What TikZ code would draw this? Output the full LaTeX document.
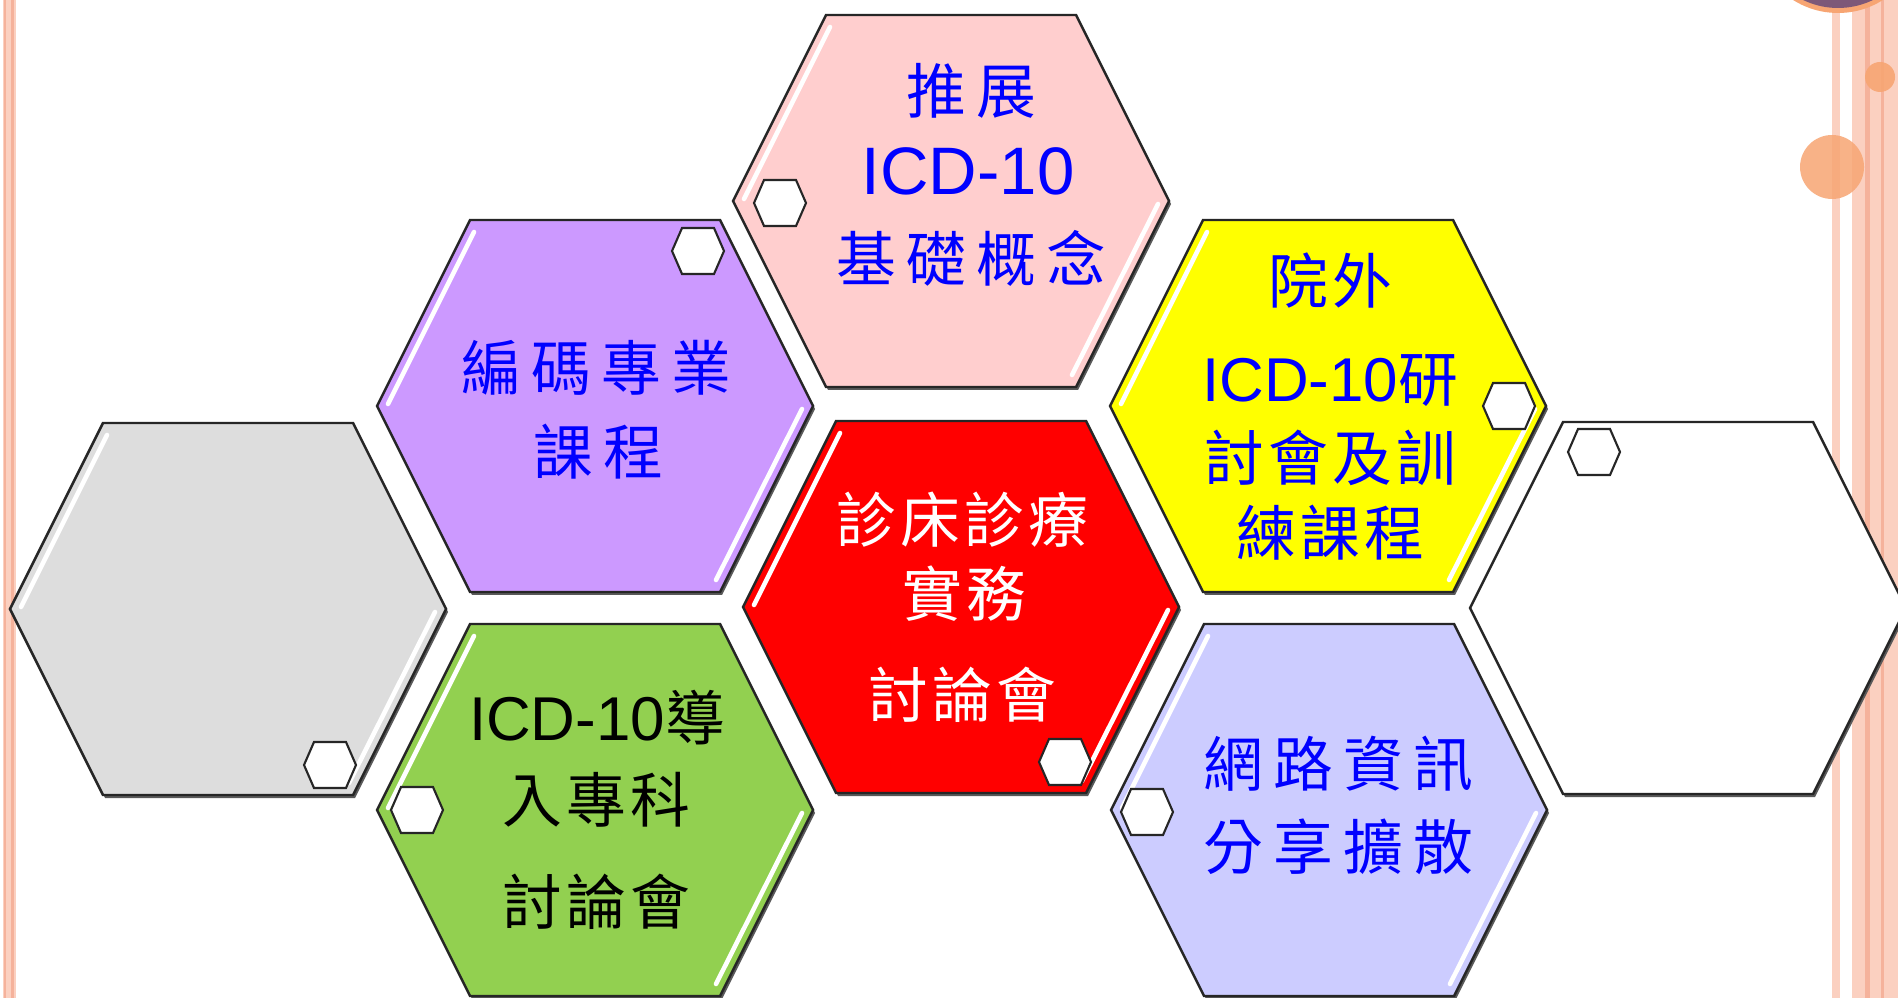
\documentclass[tikz,border=0pt]{standalone}
\usepackage{fontspec}
\newfontfamily\cjkfont[LetterSpace=7]{Noto Sans CJK TC}
\newfontfamily\cjkwidefont[LetterSpace=17]{Noto Sans CJK TC}
\newfontfamily\icdfont{Liberation Sans}
\definecolor{pinkfill}{RGB}{255,206,206}
\definecolor{purplefill}{RGB}{204,153,255}
\definecolor{yellowfill}{RGB}{255,255,0}
\definecolor{redfill}{RGB}{255,0,0}
\definecolor{greenfill}{RGB}{146,208,80}
\definecolor{lavenderfill}{RGB}{204,204,255}
\definecolor{grayfill}{RGB}{221,221,221}
\definecolor{textblue}{RGB}{0,0,255}
\definecolor{stripelight}{RGB}{251,208,192}
\definecolor{stripedark}{RGB}{245,178,155}
\definecolor{bubbleorange}{RGB}{247,165,115}
\definecolor{bubbledark}{RGB}{125,88,120}
\begin{document}
\begin{tikzpicture}[x=0.01cm, y=-0.01cm,
    hexline/.style={draw=black!85, line width=0.7pt},
    hexshadow/.style={fill=black!65},
    shine/.style={draw=white, line width=1.3pt, line cap=round},
    knobline/.style={fill=white, draw=black!85, line width=0.6pt},
    cjk/.style={font=\fontsize{17}{20}\cjkfont, inner sep=0pt},
    cjkwide/.style={font=\fontsize{17}{20}\cjkwidefont, inner sep=0pt},
    icd/.style={font=\fontsize{19.1}{22}\icdfont, inner sep=0pt},
    pics/bighex/.style={code={
      \fill[hexshadow] (-216,3) -- (-123,189) -- (127,189) -- (220,3) -- (127,-183) -- (-123,-183) -- cycle;
      \filldraw[fill=#1, hexline] (-218,0) -- (-125,186) -- (125,186) -- (218,0) -- (125,-186) -- (-125,-186) -- cycle;
      \draw[shine] (-121,-174) -- (-207,-2);
      \draw[shine] (207,3) -- (121,174);
    }},
    pics/knob/.style={code={
      \filldraw[knobline] (-26,0) -- (-16,23) -- (16,23) -- (26,0) -- (16,-23) -- (-16,-23) -- cycle;
    }}]
  \useasboundingbox (0,0) rectangle (1898,998);
  \fill[white] (0,0) rectangle (1898,998);
  %
  % side stripes and bubbles
  \fill[stripelight] (3,0) rectangle (16,998);
  \fill[stripedark] (4,0) rectangle (6,998);
  \fill[stripedark] (11,0) rectangle (14,998);
  \fill[stripelight] (1832,0) rectangle (1840,998);
  \fill[stripelight] (1852,0) rectangle (1898,998);
  \fill[stripedark] (1865,0) rectangle (1870,998);
  \fill[stripedark] (1881,0) rectangle (1884,998);
  \fill[bubbleorange] (1838,-71) circle (84);
  \fill[bubbledark] (1838,-72) circle (80);
  \fill[bubbleorange, opacity=0.85] (1832,167) circle (32);
  \fill[bubbleorange, opacity=0.9] (1880,77) circle (15);
  %
  % big hexagons
  \pic at (951,201) {bighex=pinkfill};
  \pic at (595,406) {bighex=purplefill};
  \pic at (1328,406) {bighex=yellowfill};
  \pic at (228,609) {bighex=grayfill};
  \pic at (961,607) {bighex=redfill};
  \pic at (1688,608) {bighex=white};
  \pic at (595,810) {bighex=greenfill};
  \pic at (1329,810) {bighex=lavenderfill};
  %
  % small hexagons
  \pic at (780,203) {knob};
  \pic at (698,251) {knob};
  \pic at (1509,406) {knob};
  \pic at (330,765) {knob};
  \pic at (1065,762) {knob};
  \pic at (1594,452) {knob};
  \pic at (417,810) {knob};
  \pic at (1147,812) {knob};
  %
  \draw(971,91) node[cjkwide, textblue](pinkA){推展};
  \draw(968,171) node[icd, textblue](pinkB){ICD-10};
  \draw(971,258) node[cjkwide, textblue](pinkC){基礎概念};
  %
  \draw(596,368) node[cjkwide, textblue](purpleA){編碼專業};
  \draw(598,452) node[cjkwide, textblue](purpleB){課程};
  %
  \draw(1330,281) node[cjk, textblue](yellowA){院外};
  \draw(1330,381) node[cjk, textblue](yellowB){{\fontsize{17.6}{20}\icdfont ICD-10}研};
  \draw(1330,458) node[cjk, textblue](yellowC){討會及訓};
  \draw(1330,533) node[cjk, textblue](yellowD){練課程};
  %
  \draw(962,520) node[cjk, white](redA){診床診療};
  \draw(964,594) node[cjk, white](redB){實務};
  \draw(962,695) node[cjk, white](redC){討論會};
  %
  \draw(597,718) node[cjk, black](greenA){{\fontsize{17.6}{20}\icdfont ICD-10}導};
  \draw(596,800) node[cjk, black](greenB){入專科};
  \draw(596,902) node[cjk, black](greenC){討論會};
  %
  \draw(1338,764) node[cjkwide, textblue](lavenderA){網路資訊};
  \draw(1338,847) node[cjkwide, textblue](lavenderB){分享擴散};
  %
\end{tikzpicture}
\end{document}
